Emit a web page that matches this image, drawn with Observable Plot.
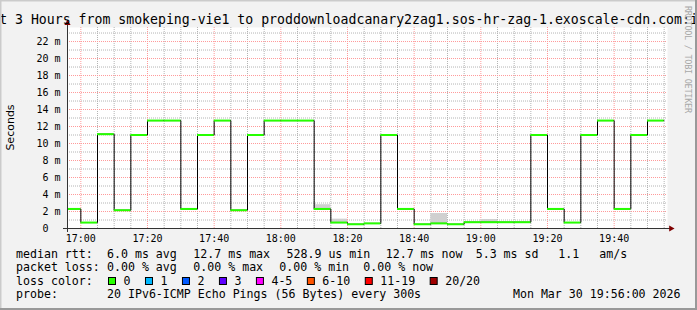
<!DOCTYPE html>
<html><head><meta charset="utf-8">
<script src="https://cdn.jsdelivr.net/npm/d3@7"></script>
<script src="https://cdn.jsdelivr.net/npm/@observablehq/plot@0.6"></script>
<style>body{margin:0;background:#f2f2f2;overflow:hidden} svg{display:block}</style>
</head><body><div id="chart"></div>
<script>
// ---- data ----
const day = "2026-03-30";
const rangeStart = "16:56";
const rangeEnd = "19:56";
const startTimes = ["16:55","17:00","17:05","17:10","17:15","17:20","17:25","17:30","17:35","17:40","17:45","17:50",
  "17:55","18:00","18:05","18:10","18:15","18:20","18:25","18:30","18:35","18:40","18:45","18:50",
  "18:55","19:00","19:05","19:10","19:15","19:20","19:25","19:30","19:35","19:40","19:45","19:50"];
const medianMs = [2.3,0.7,11.1,2.15,11.0,12.7,12.7,2.3,11.0,12.7,2.15,11.0,
  12.7,12.7,12.7,2.3,0.7,0.5,0.6,11.0,2.3,0.5,0.6,0.5,
  0.74,0.74,0.74,0.74,11.0,2.3,0.7,11.0,12.7,2.3,11.0,12.7];
const smokeTopMs = [2.3,0.7,11.1,2.15,11.0,12.7,12.7,2.3,11.0,12.7,2.15,11.0,
  12.7,12.7,12.7,2.8,1.1,0.5,0.6,11.0,2.3,0.5,1.76,0.5,
  0.74,1.06,0.74,0.74,11.0,2.3,0.7,11.0,12.7,2.3,11.0,12.7];
const yTicks = [0,2,4,6,8,10,12,14,16,18,20,22];
const xTickLabels = ["17:00","17:20","17:40","18:00","18:20","18:40","19:00","19:20","19:40"];
const lossLabels = ["0","1","2","3","4-5","6-10","11-19","20/20"];
const lossColors = ["#26ff00","#00b8ff","#0059ff","#5e00ff","#ff00ff","#ff5500","#ff0000","#a00000"];
const titleText = "Last 3 Hours from smokeping-vie1 to proddownloadcanary2zag1.sos-hr-zag-1.exoscale-cdn.com:ipv6";
const rttItems = ["median rtt:","6.0 ms avg","12.7 ms max","528.9 us min","12.7 ms now","5.3 ms sd","1.1","am/s"];
const lossItems = ["packet loss:","0.00 % avg","0.00 % max","0.00 % min","0.00 % now"];
const probeItems = ["probe:","20 IPv6-ICMP Echo Pings (56 Bytes) every 300s","Mon Mar 30 19:56:00 2026"];

// ---- build ----
const T = s => new Date(`${day}T${s}:00Z`);
const STEP = 5 * 60 * 1000;
const start = T(rangeStart), end = T(rangeEnd);
const rows = startTimes.map((s, i) => ({t0: T(s), t1: new Date(+T(s) + STEP), v: medianMs[i], top: smokeTopMs[i]}));
const linePts = rows.map(d => ({t: d.t0, v: d.v})).concat([{t: rows[rows.length-1].t1, v: rows[rows.length-1].v}]);
const xTicks = xTickLabels.map(T);
const yMax = 23.65;
const minorY = d3.range(1, 24, 2);
const majorY = yTicks.filter(d => d > 0);
const minorX = d3.utcMinute.every(5).range(start, end).filter(d => d.getUTCMinutes() % 20 !== 0);
const majorX = xTicks;
const mono = "DejaVu Sans Mono";
const gridGray = "#b4b4b4", gridRed = "#ff9a9a";

const chart = Plot.plot({
  width: 697, height: 310,
  marginLeft: 67, marginRight: 30, marginTop: 27, marginBottom: 82,
  style: {background: "#f2f2f2", fontFamily: mono, fontSize: "10px", overflow: "hidden", color: "#000"},
  x: {type: "utc", domain: [start, end]},
  y: {domain: [0, yMax]},
  marks: [
    Plot.frame({fill: "#ffffff", stroke: "none"}),
    Plot.ruleY(minorY, {stroke: gridGray, strokeDasharray: "1,1"}),
    Plot.ruleX(minorX, {stroke: gridGray, strokeDasharray: "1,1"}),
    Plot.ruleY(majorY, {stroke: gridRed, strokeDasharray: "1,1"}),
    Plot.ruleX(majorX, {stroke: gridRed, strokeDasharray: "1,1"}),
    Plot.rect(rows.filter(d => d.top > d.v), {x1: "t0", x2: "t1", y1: "v", y2: "top", fill: "#d0d0d0", clip: true}),
    Plot.line(linePts, {x: "t", y: "v", curve: "step-after", stroke: "#000", strokeWidth: 1, clip: true}),
    Plot.ruleY(rows, {x1: "t0", x2: "t1", y: "v", stroke: lossColors[0], strokeWidth: 2, clip: true}),
    Plot.ruleX([start], {y1: -0.47, y2: 24.0, stroke: "#333"}),
    Plot.ruleY([0], {x1: new Date(+start - 72000), x2: new Date(+end + 60000), stroke: "#333"}),
    Plot.dot([{x: new Date(+end + 63000), y: 0}], {x: "x", y: "y", symbol: "triangle", r: 2.3, rotate: 90, fill: "#7f0000", stroke: "none"}),
    Plot.dot([{x: start, y: 24.15}], {x: "x", y: "y", symbol: "triangle", r: 2.3, fill: "#7f0000", stroke: "none"}),
    Plot.axisX({ticks: xTicks, tickFormat: d3.utcFormat("%H:%M"), tickSize: 0, tickPadding: 6, label: null, fontFamily: mono, fontSize: 10}),
    Plot.axisY({ticks: yTicks, tickFormat: d => d === 0 ? "0\u00a0\u00a0" : `${d} m`, tickSize: 0, tickPadding: 7, label: null, fontFamily: mono, fontSize: 10})
  ]
});
document.getElementById("chart").appendChild(chart);

// ---- decorations: title, labels, legend ----
const svg = d3.select(chart);
const addText = (x, y, s, opts = {}) => svg.append("text")
  .attr("x", x).attr("y", y).text(s)
  .attr("font-family", opts.family || mono)
  .attr("font-size", opts.size || "11.6px")
  .attr("fill", opts.fill || "#000")
  .attr("text-anchor", opts.anchor || "start")
  .attr("transform", opts.transform || null)
  .style("white-space", "pre");

addText(348.5, 24, titleText, {size: "13.2px", anchor: "middle"});
addText(0, 0, "Seconds", {family: "DejaVu Sans", size: "11px", anchor: "middle", transform: "translate(14,127.5) rotate(-90)"});
addText(0, 0, "RRDTOOL / TOBI OETIKER", {size: "8.5px", fill: "#a8a8a8", transform: "translate(685,6) rotate(90)"})
  .attr("textLength", 107).attr("lengthAdjust", "spacing");

const rttX = [16, 107, 193.3, 286.5, 385.7, 475.7, 558.3, 599.3];
rttItems.forEach((s, i) => addText(rttX[i], 257.8, s));
const lossX = [16, 107, 193.3, 279.3, 363.3];
lossItems.forEach((s, i) => addText(lossX[i], 271.2, s));
addText(16, 284.6, "loss color:");
let bx = 108;
lossLabels.forEach((lab, i) => {
  svg.append("rect").attr("x", bx + 0.5).attr("y", 277.5).attr("width", 7).attr("height", 7)
    .attr("fill", lossColors[i]).attr("stroke", "#000").attr("stroke-width", 1);
  addText(bx + 15.5, 284.6, lab);
  bx += 16 + lab.length * 6.98 + 14;
});
addText(16, 298, probeItems[0]);
addText(107, 298, probeItems[1]);
addText(680.5, 298, probeItems[2], {anchor: "end"});

// frame shading
svg.append("rect").attr("x", 0).attr("y", 0).attr("width", 697).attr("height", 1.5).attr("fill", "#cbcbcb");
svg.append("rect").attr("x", 0).attr("y", 0).attr("width", 1.5).attr("height", 310).attr("fill", "#cbcbcb");
svg.append("rect").attr("x", 695).attr("y", 0).attr("width", 2).attr("height", 310).attr("fill", "#999999");
svg.append("rect").attr("x", 0).attr("y", 308).attr("width", 697).attr("height", 2).attr("fill", "#999999");
</script>
</body></html>
